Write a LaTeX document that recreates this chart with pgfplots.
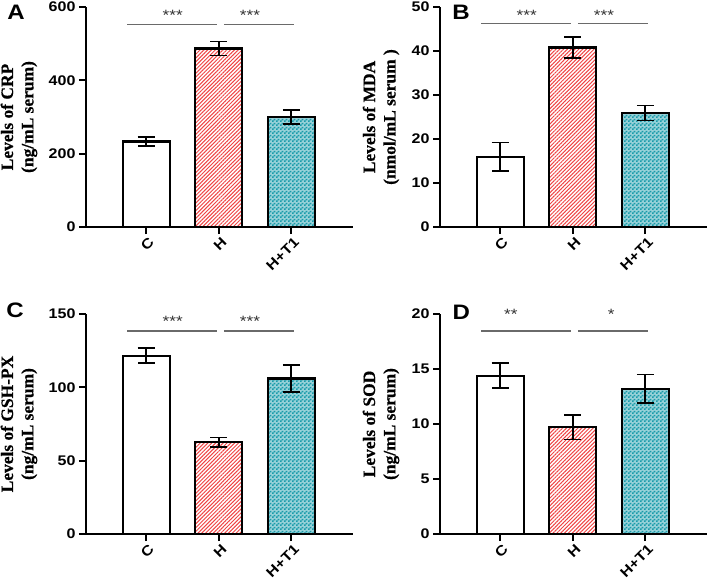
\documentclass[border=0pt]{standalone}
\usepackage{fontspec}
\setmainfont{Liberation Serif}
\setsansfont{Liberation Sans}
\newfontfamily\tickfont[FakeStretch=1.15]{Liberation Sans}
\newfontfamily\labfont[FakeBold=0.6]{Liberation Serif Bold}
\usepackage{pgfplots}
\pgfplotsset{compat=1.18}
\usetikzlibrary{patterns.meta}

\definecolor{hred}{HTML}{F04444}
\definecolor{hteal}{HTML}{1A9BAA}
\definecolor{sigc}{HTML}{6A6A6A}

\pgfdeclarepattern{
  name=finecheck, type=uncolored,
  bottom left={\pgfpointorigin}, top right={\pgfpoint{4bp}{4bp}},
  tile size={\pgfpoint{4bp}{4bp}},
  code={
    \pgfpathrectangle{\pgfpointorigin}{\pgfpoint{2bp}{2bp}}
    \pgfpathrectangle{\pgfpoint{2bp}{2bp}}{\pgfpoint{2bp}{2bp}}
    \pgfusepath{fill}
  }
}

\tikzset{
  sig/.style={draw=sigc, line width=1.3bp},
  star/.style={font=\tickfont\fontsize{15}{15}\selectfont, text=black!80},
  plabel/.style={font=\tickfont\bfseries\fontsize{21}{21}\selectfont},
}

\pgfplotsset{
  panel/.style={
    scale only axis, width=267bp, height=220bp,
    xmin=-0.83, xmax=2.85, ymin=0,
    axis x line*=bottom, axis y line*=left,
    axis line style={line width=2.3bp, black},
    xtick={0,1,2}, xticklabels={C,H,H+T1},
    tick style={line width=2.2bp, black},
    major tick length=7bp, tick align=outside,
    /pgf/number format/assume math mode=true,
    xticklabel style={rotate=45, anchor=east, font=\tickfont\bfseries\fontsize{14}{14}\selectfont, yshift=-8bp, xshift=3bp},
    yticklabel style={font=\tickfont\bfseries\fontsize{14}{14}\selectfont},
    ylabel style={font=\labfont\fontsize{17.5}{20.5}\selectfont, align=center, anchor=center},
    clip=false,
    ybar, bar width=47bp, bar shift=0pt,
  },
  errs/.style={
    error bars/.cd, y dir=both, y explicit,
    error mark options={line width=1.7bp, mark size=8.5bp, black, rotate=90},
    error bar style={line width=1.7bp, black},
  },
  barC/.style={draw=black, line width=2.2bp, fill=white, errs},
  barH/.style={draw=black, line width=2.2bp, fill=white,
    postaction={pattern={Lines[angle=45,distance=2.7bp,line width=1bp]}, pattern color=hred}, errs},
  barT/.style={draw=black, line width=2.2bp, fill=hteal!45,
    postaction={pattern=finecheck, pattern color=hteal}, errs},
}

\begin{document}
\begin{tikzpicture}
\useasboundingbox (0,0) rectangle (708bp,-586bp);

% ---------------- A ----------------
\begin{axis}[panel, at={(86bp,-227bp)}, anchor=south west,
  ymax=600, ytick={0,200,400,600},
  ylabel={Levels of CRP\\(ng/mL serum)},
  ylabel style={at={(axis description cs:-0.251,0.5)}}]
\addplot[barC] coordinates {(0,233) +- (0,12)};
\addplot[barH] coordinates {(1,487) +- (0,19)};
\addplot[barT] coordinates {(2,300) +- (0,20)};
\draw[sig] (axis cs:-0.26,553) -- (axis cs:0.98,553);
\draw[sig] (axis cs:1.07,553) -- (axis cs:2.03,553);
\node[star] at (axis cs:0.365,578) {***};
\node[star] at (axis cs:1.43,578) {***};
\node[plabel] at (axis description cs:-0.262,0.975) {A};
\end{axis}

% ---------------- B ----------------
\begin{axis}[panel, at={(440bp,-227bp)}, anchor=south west,
  ymax=50, ytick={0,10,20,30,40,50},
  ylabel={Levels of MDA\\(nmol/mL serum )},
  ylabel style={at={(axis description cs:-0.221,0.5)}}]
\addplot[barC] coordinates {(0,16.0) +- (0,3.2)};
\addplot[barH] coordinates {(1,40.8) +- (0,2.4)};
\addplot[barT] coordinates {(2,25.9) +- (0,1.7)};
\draw[sig] (axis cs:-0.26,46.3) -- (axis cs:0.98,46.3);
\draw[sig] (axis cs:1.07,46.3) -- (axis cs:2.03,46.3);
\node[star] at (axis cs:0.365,48.2) {***};
\node[star] at (axis cs:1.43,48.2) {***};
\node[plabel] at (axis description cs:0.079,0.977) {B};
\end{axis}

% ---------------- C ----------------
\begin{axis}[panel, at={(86bp,-534bp)}, anchor=south west,
  ymax=150, ytick={0,50,100,150},
  ylabel={Levels of GSH-PX\\(ng/mL serum)},
  ylabel style={at={(axis description cs:-0.251,0.5)}}]
\addplot[barC] coordinates {(0,121.5) +- (0,5.1)};
\addplot[barH] coordinates {(1,62.5) +- (0,3.2)};
\addplot[barT] coordinates {(2,106) +- (0,9.3)};
\draw[sig] (axis cs:-0.26,138.4) -- (axis cs:0.98,138.4);
\draw[sig] (axis cs:1.07,138.4) -- (axis cs:2.03,138.4);
\node[star] at (axis cs:0.365,145) {***};
\node[star] at (axis cs:1.43,145) {***};
\node[plabel] at (axis description cs:-0.266,1.018) {C};
\end{axis}

% ---------------- D ----------------
\begin{axis}[panel, at={(440bp,-534bp)}, anchor=south west,
  ymax=20, ytick={0,5,10,15,20},
  ylabel={Levels of SOD\\(ng/mL serum)},
  ylabel style={at={(axis description cs:-0.221,0.5)}}]
\addplot[barC] coordinates {(0,14.4) +- (0,1.15)};
\addplot[barH] coordinates {(1,9.7) +- (0,1.1)};
\addplot[barT] coordinates {(2,13.2) +- (0,1.3)};
\draw[sig] (axis cs:-0.26,18.46) -- (axis cs:0.98,18.46);
\draw[sig] (axis cs:1.07,18.46) -- (axis cs:2.03,18.46);
\node[star] at (axis cs:0.147,20.0) {**};
\node[star] at (axis cs:1.53,20.0) {*};
\node[plabel] at (axis description cs:0.08,1.007) {D};
\end{axis}
\end{tikzpicture}
\end{document}
